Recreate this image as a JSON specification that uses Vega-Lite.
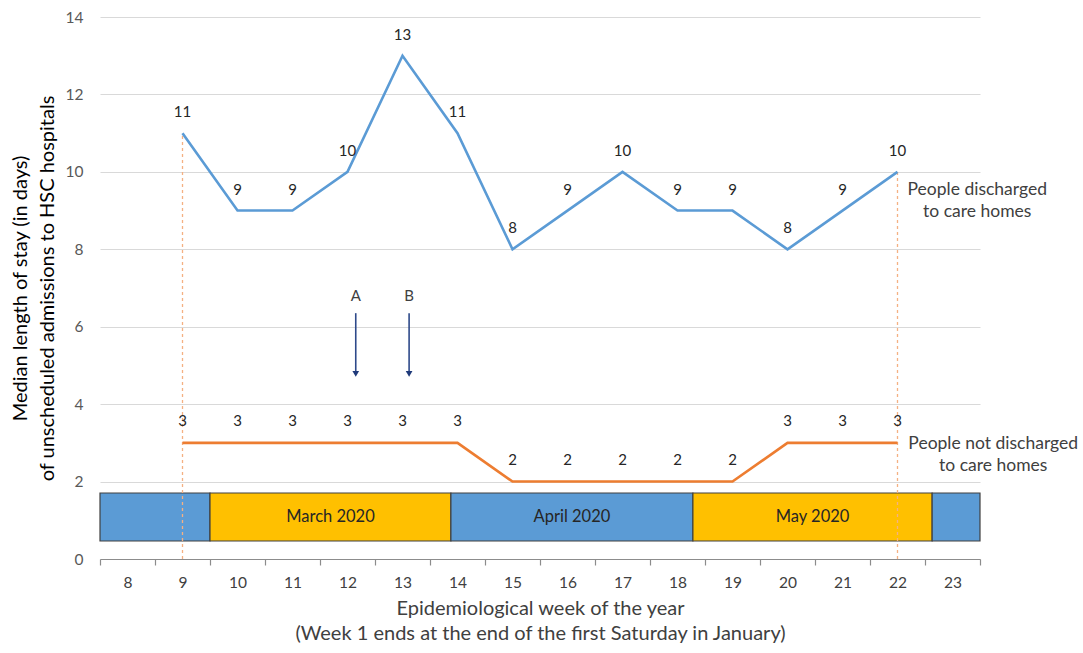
{
  "$schema": "https://vega.github.io/schema/vega-lite/v6.json",
  "width": 880,
  "height": 542,
  "autosize": "none",
  "padding": {"left": 100, "top": 17, "right": 103, "bottom": 94},
  "background": "white",
  "config": {"view": {"stroke": null}, "font": "Lato"},
  "datasets": {
    "lines": [
      {"week": 9, "value": 11, "series": "discharged"},
      {"week": 10, "value": 9, "series": "discharged"},
      {"week": 11, "value": 9, "series": "discharged"},
      {"week": 12, "value": 10, "series": "discharged"},
      {"week": 13, "value": 13, "series": "discharged"},
      {"week": 14, "value": 11, "series": "discharged"},
      {"week": 15, "value": 8, "series": "discharged"},
      {"week": 16, "value": 9, "series": "discharged"},
      {"week": 17, "value": 10, "series": "discharged"},
      {"week": 18, "value": 9, "series": "discharged"},
      {"week": 19, "value": 9, "series": "discharged"},
      {"week": 20, "value": 8, "series": "discharged"},
      {"week": 21, "value": 9, "series": "discharged"},
      {"week": 22, "value": 10, "series": "discharged"},
      {"week": 9, "value": 3, "series": "not discharged"},
      {"week": 10, "value": 3, "series": "not discharged"},
      {"week": 11, "value": 3, "series": "not discharged"},
      {"week": 12, "value": 3, "series": "not discharged"},
      {"week": 13, "value": 3, "series": "not discharged"},
      {"week": 14, "value": 3, "series": "not discharged"},
      {"week": 15, "value": 2, "series": "not discharged"},
      {"week": 16, "value": 2, "series": "not discharged"},
      {"week": 17, "value": 2, "series": "not discharged"},
      {"week": 18, "value": 2, "series": "not discharged"},
      {"week": 19, "value": 2, "series": "not discharged"},
      {"week": 20, "value": 3, "series": "not discharged"},
      {"week": 21, "value": 3, "series": "not discharged"},
      {"week": 22, "value": 3, "series": "not discharged"}
    ],
    "months": [
      {"start": 7.5, "end": 9.5, "mid": 8.5, "lo": 0.465, "hi": 1.705, "labely": 1.085, "label": "", "kind": "blue"},
      {"start": 9.5, "end": 13.88, "mid": 11.69, "lo": 0.465, "hi": 1.705, "labely": 1.085, "label": "March 2020", "kind": "gold"},
      {"start": 13.88, "end": 18.28, "mid": 16.08, "lo": 0.465, "hi": 1.705, "labely": 1.085, "label": "April 2020", "kind": "blue"},
      {"start": 18.28, "end": 22.63, "mid": 20.455, "lo": 0.465, "hi": 1.705, "labely": 1.085, "label": "May 2020", "kind": "gold"},
      {"start": 22.63, "end": 23.5, "mid": 23.07, "lo": 0.465, "hi": 1.705, "labely": 1.085, "label": "", "kind": "blue"}
    ],
    "drops": [
      {"week": 9, "base": 0, "top": 11},
      {"week": 22, "base": 0, "top": 10}
    ],
    "arrows": [
      {"x": 12.15, "top": 6.35, "bottom": 4.85, "tip": 4.78, "labely": 6.8, "label": "A"},
      {"x": 13.12, "top": 6.35, "bottom": 4.85, "tip": 4.78, "labely": 6.8, "label": "B"}
    ],
    "notes": [
      {"x": 23.45, "y": 9.53, "text": "People discharged"},
      {"x": 23.45, "y": 8.97, "text": "to care homes"},
      {"x": 23.74, "y": 2.96, "text": "People not discharged"},
      {"x": 23.74, "y": 2.4, "text": "to care homes"}
    ]
  },
  "layer": [
    {
      "data": {"name": "months"},
      "mark": {"type": "rect", "stroke": "#404040", "strokeWidth": 1.2},
      "encoding": {
        "x": {
          "field": "start", "type": "quantitative",
          "scale": {"domain": [7.5, 23.5], "nice": false, "zero": false},
          "axis": {
            "values": [7.5, 8.5, 9.5, 10.5, 11.5, 12.5, 13.5, 14.5, 15.5, 16.5, 17.5, 18.5, 19.5, 20.5, 21.5, 22.5, 23.5],
            "labelExpr": "datum.value > 23 ? '' : format(datum.value + 0.5, 'd')",
            "labelOffset": 27.5,
            "labelOverlap": false,
            "labelFlush": false,
            "grid": false,
            "domainColor": "#8c8c8c",
            "domainWidth": 1.2,
            "tickColor": "#8c8c8c",
            "tickSize": 6,
            "tickWidth": 1.2,
            "labelPadding": 10,
            "labelFontSize": 15.5,
            "labelColor": "#404040",
            "title": ["Epidemiological week of the year", "(Week 1 ends at the end of the first Saturday in January)"],
            "titleFontSize": 20,
            "titleFontWeight": "normal",
            "titleColor": "#404040",
            "titlePadding": 8,
            "titleLineHeight": 25
          }
        },
        "x2": {"field": "end"},
        "y": {
          "field": "hi", "type": "quantitative",
          "scale": {"domain": [0, 14], "nice": false},
          "axis": {
            "values": [0, 2, 4, 6, 8, 10, 12, 14],
            "grid": true,
            "gridColor": "#d9d9d9",
            "gridWidth": 1,
            "domain": false,
            "ticks": false,
            "labelPadding": 17,
            "labelFontSize": 15.5,
            "labelColor": "#595959",
            "title": ["Median length of stay (in days)", "of unscheduled admissions to HSC hospitals"],
            "titleFontSize": 20,
            "titleFontWeight": "normal",
            "titleColor": "#000000",
            "titlePadding": 8,
            "titleLineHeight": 27
          }
        },
        "y2": {"field": "lo"},
        "fill": {"field": "kind", "type": "nominal", "scale": {"domain": ["blue", "gold"], "range": ["#5B9BD5", "#FFC000"]}, "legend": null}
      }
    },
    {
      "data": {"name": "months"},
      "mark": {"type": "text", "fontSize": 16.5, "color": "#262626", "baseline": "middle"},
      "encoding": {
        "x": {"field": "mid", "type": "quantitative"},
        "y": {"field": "labely", "type": "quantitative"},
        "text": {"field": "label", "type": "nominal"}
      }
    },
    {
      "data": {"name": "drops"},
      "mark": {"type": "rule", "color": "#F4B183", "strokeWidth": 1.3, "strokeDash": [3, 3]},
      "encoding": {
        "x": {"field": "week", "type": "quantitative"},
        "y": {"field": "base", "type": "quantitative"},
        "y2": {"field": "top"}
      }
    },
    {
      "data": {"name": "lines"},
      "mark": {"type": "line", "strokeWidth": 2.6},
      "encoding": {
        "x": {"field": "week", "type": "quantitative"},
        "y": {"field": "value", "type": "quantitative"},
        "color": {"field": "series", "type": "nominal", "scale": {"domain": ["discharged", "not discharged"], "range": ["#5B9BD5", "#ED7D31"]}, "legend": null}
      }
    },
    {
      "data": {"name": "lines"},
      "transform": [{"filter": "datum.series == 'discharged'"}],
      "mark": {"type": "text", "fontSize": 15, "color": "#262626", "dy": -21, "baseline": "middle"},
      "encoding": {
        "x": {"field": "week", "type": "quantitative"},
        "y": {"field": "value", "type": "quantitative"},
        "text": {"field": "value", "type": "quantitative"}
      }
    },
    {
      "data": {"name": "lines"},
      "transform": [{"filter": "datum.series == 'not discharged'"}],
      "mark": {"type": "text", "fontSize": 15, "color": "#262626", "dy": -22, "baseline": "middle"},
      "encoding": {
        "x": {"field": "week", "type": "quantitative"},
        "y": {"field": "value", "type": "quantitative"},
        "text": {"field": "value", "type": "quantitative"}
      }
    },
    {
      "data": {"name": "arrows"},
      "mark": {"type": "rule", "color": "#2E4A8A", "strokeWidth": 1.6},
      "encoding": {
        "x": {"field": "x", "type": "quantitative"},
        "y": {"field": "top", "type": "quantitative"},
        "y2": {"field": "bottom"}
      }
    },
    {
      "data": {"name": "arrows"},
      "mark": {"type": "point", "shape": "triangle-down", "filled": true, "color": "#1F3A7A", "size": 45, "opacity": 1},
      "encoding": {
        "x": {"field": "x", "type": "quantitative"},
        "y": {"field": "tip", "type": "quantitative"}
      }
    },
    {
      "data": {"name": "arrows"},
      "mark": {"type": "text", "fontSize": 15, "color": "#404040", "baseline": "middle"},
      "encoding": {
        "x": {"field": "x", "type": "quantitative"},
        "y": {"field": "labely", "type": "quantitative"},
        "text": {"field": "label", "type": "nominal"}
      }
    },
    {
      "data": {"name": "notes"},
      "mark": {"type": "text", "fontSize": 17.5, "color": "#404040", "baseline": "middle", "align": "center"},
      "encoding": {
        "x": {"field": "x", "type": "quantitative"},
        "y": {"field": "y", "type": "quantitative"},
        "text": {"field": "text", "type": "nominal"}
      }
    }
  ]
}
